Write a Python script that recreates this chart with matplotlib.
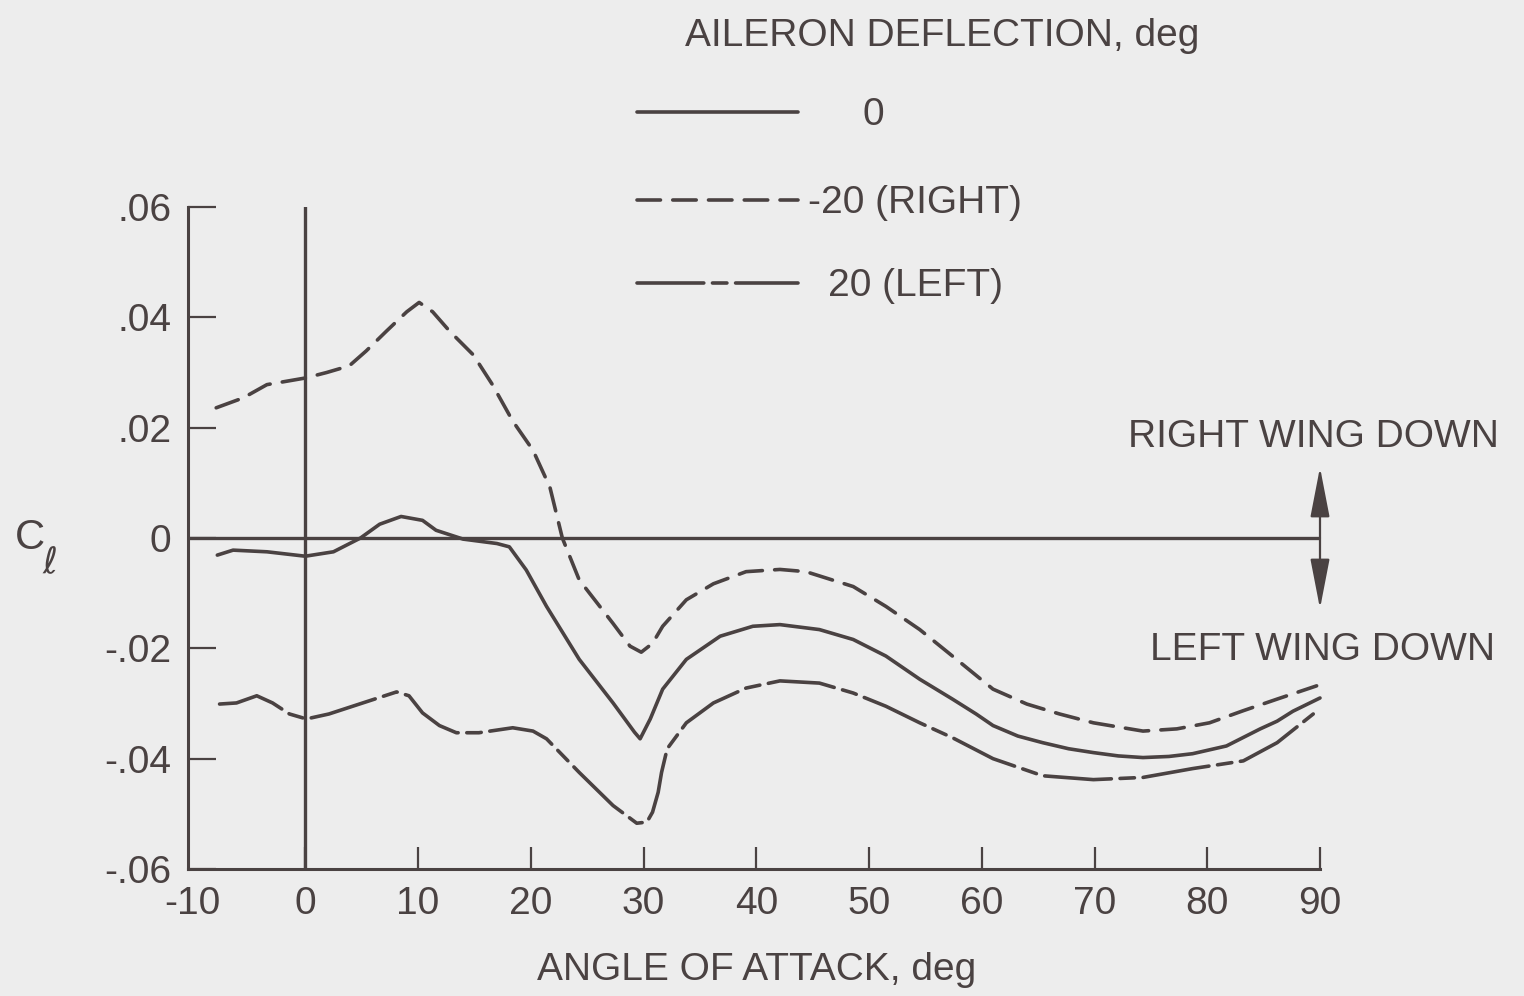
import matplotlib
matplotlib.use("Agg")
import matplotlib.pyplot as plt
from matplotlib.lines import Line2D

# ---------------- data ----------------
alpha_0 = [-7.8, -6.4, -3.4, 0, 2.5, 4.9, 6.6, 8.5, 10.4, 11.6, 14, 17, 18.1, 19.6, 21.4,
           24.3, 27.3, 29.2, 29.7, 30.6, 31.7, 33.8, 36.8, 39.7, 42.1, 45.6, 48.6, 51.5,
           54.5, 57.4, 59.5, 61, 63.2, 65.4, 67.7, 69.9, 72.1, 74.3, 76.6, 78.7, 81.7,
           84.7, 86.2, 87.6, 90]
cl_0 = [-0.0031, -0.0022, -0.0025, -0.0033, -0.0025, 0.0, 0.0025, 0.0039, 0.0032, 0.0014,
        -0.0002, -0.0010, -0.0016, -0.0058, -0.0124, -0.0220, -0.0299, -0.0352, -0.0364,
        -0.0328, -0.0274, -0.0220, -0.0178, -0.0160, -0.0157, -0.0166, -0.0184, -0.0214,
        -0.0256, -0.0292, -0.0319, -0.0340, -0.0359, -0.0371, -0.0382, -0.0389, -0.0395,
        -0.0398, -0.0396, -0.0391, -0.0377, -0.0346, -0.0332, -0.0314, -0.0290]

alpha_right = [-7.9, -5.5, -3.4, 0, 1.9, 3.9, 5.4, 7.2, 9.0, 10.1, 11.3, 12.8, 14.9, 16.6,
               18.4, 20.2, 21.7, 22.8, 24.3, 27.3, 28.8, 29.8, 30.8, 31.7, 33.8, 36.2, 39.1,
               42.1, 44.4, 48.6, 51.5, 54.5, 57.4, 61, 64, 66.9, 69.9, 74.3, 77.3, 80.2,
               83.2, 86.2, 89.7]
cl_right = [0.0236, 0.0254, 0.0278, 0.0290, 0.0300, 0.0312, 0.0339, 0.0375, 0.0410, 0.0427,
            0.0410, 0.0375, 0.0332, 0.0278, 0.0212, 0.0159, 0.0092, 0.0, -0.0076, -0.0155,
            -0.0196, -0.0207, -0.0191, -0.0160, -0.0112, -0.0083, -0.0061, -0.0057, -0.0061,
            -0.0088, -0.0124, -0.0166, -0.0214, -0.0274, -0.0301, -0.0319, -0.0335, -0.0350,
            -0.0346, -0.0335, -0.0313, -0.0292, -0.0268]

alpha_left = [-7.6, -6.1, -4.3, -2.9, -1.4, 0.1, 2.1, 5.1, 8.1, 9.2, 10.4, 11.9, 13.4, 15.4,
              18.4, 20.2, 21.4, 24.3, 27.3, 29.4, 30.3, 30.8, 31.3, 31.6, 32.1, 33.8, 36.2,
              39.1, 42.1, 45.6, 48.6, 51.5, 54.5, 57.4, 61, 65.4, 69.9, 74.3, 78.7, 83.2,
              86.2, 89.4]
cl_left = [-0.0301, -0.0299, -0.0286, -0.0299, -0.0319, -0.0328, -0.0319, -0.0299, -0.0279,
           -0.0286, -0.0317, -0.0340, -0.0353, -0.0353, -0.0344, -0.0350, -0.0364, -0.0425,
           -0.0485, -0.0517, -0.0515, -0.0497, -0.0461, -0.0425, -0.0382, -0.0335, -0.0299,
           -0.0272, -0.0259, -0.0263, -0.0281, -0.0305, -0.0335, -0.0362, -0.0400, -0.0431,
           -0.0438, -0.0434, -0.0418, -0.0404, -0.0371, -0.0319]

x_ticks = [-10, 0, 10, 20, 30, 40, 50, 60, 70, 80, 90]
x_ticklabels = ["-10", "0", "10", "20", "30", "40", "50", "60", "70", "80", "90"]
y_ticks = [-0.06, -0.04, -0.02, 0, 0.02, 0.04, 0.06]
y_ticklabels = ["-.06", "-.04", "-.02", "0", ".02", ".04", ".06"]

legend_labels = ["0", "-20 (RIGHT)", "20 (LEFT)"]
legend_title = "AILERON DEFLECTION, deg"

# ---------------- style ----------------
INK = "#4a4242"
BG = "#ededed"
FONT = ["Liberation Sans", "DejaVu Sans"]
plt.rcParams["font.family"] = FONT
FS = 28

W, H = 1524, 996
fig = plt.figure(figsize=(W / 100, H / 100), dpi=100, facecolor=BG)
ax = fig.add_axes([188 / W, 1 - 869 / H, (1320 - 188) / W, (869 - 207) / H])
ax.set_facecolor(BG)

LW = 2.6
DASHED = (0, (6.5, 3.4))
DASHDOT = (0, (18.5, 2.4, 4.0, 2.4))

ax.plot(alpha_0, cl_0, color=INK, lw=LW, solid_capstyle="round",
        solid_joinstyle="round", clip_on=False)
ax.plot(alpha_right, cl_right, color=INK, lw=LW, linestyle=DASHED, dash_capstyle="round",
        dash_joinstyle="round", clip_on=False)
ax.plot(alpha_left, cl_left, color=INK, lw=LW, linestyle=DASHDOT, dash_capstyle="round",
        dash_joinstyle="round", clip_on=False)

ax.set_xlim(-10.4, 90)
ax.set_ylim(-0.06, 0.06)

ax.axhline(0, color=INK, lw=2.4, zorder=1)
ax.axvline(0, color=INK, lw=2.4, zorder=1)

for s in ("top", "right"):
    ax.spines[s].set_visible(False)
for s in ("left", "bottom"):
    ax.spines[s].set_color(INK)
    ax.spines[s].set_linewidth(2.2)

ax.set_xticks(x_ticks)
ax.set_xticklabels(x_ticklabels)
ax.set_yticks(y_ticks)
ax.set_yticklabels(y_ticklabels)
ax.tick_params(axis="x", direction="in", length=16, width=1.6, color=INK,
               labelsize=FS, labelcolor=INK, pad=12)
ax.tick_params(axis="y", direction="in", length=20, width=1.6, color=INK,
               labelsize=FS, labelcolor=INK, pad=12)
# the -10 tick sits on the corner of the frame: hide its mark, keep its label
ax.xaxis.get_major_ticks()[0].tick1line.set_visible(False)

ax.set_xlabel("ANGLE OF ATTACK, deg", fontsize=FS, color=INK)
ax.xaxis.set_label_coords((757 - 188) / (1320 - 188), -0.125)

# y-axis label C_l
fig.text(30 / W, 1 - 538 / H, "C", fontsize=FS + 2, color=INK, ha="center", va="center")
fig.text(50 / W, 1 - 563 / H, "\u2113", fontsize=FS - 2, color=INK, ha="center",
         va="center", family=["DejaVu Sans"])

# arrows (right / left wing down)
for tip in (0.0128, -0.0128):
    ax.annotate("", xy=(90, tip), xytext=(90, 0), xycoords="data",
                arrowprops=dict(arrowstyle="-|>,head_length=1.55,head_width=0.3",
                                color=INK, lw=1.6, shrinkA=0, shrinkB=0,
                                mutation_scale=20),
                annotation_clip=False)

fig.text(1128 / W, 1 - 437 / H, "RIGHT WING DOWN", fontsize=FS, color=INK,
         ha="left", va="center")
fig.text(1150 / W, 1 - 650 / H, "LEFT WING DOWN", fontsize=FS, color=INK,
         ha="left", va="center")

# legend (drawn manually)
fig.text(685 / W, 1 - 36 / H, legend_title, fontsize=FS, color=INK, ha="left", va="center")
styles = ["-", DASHED, DASHDOT]
rows_y = [112, 200, 283]
label_x = [863, 808, 828]
for lab, st, yy, lx in zip(legend_labels, styles, rows_y, label_x):
    ln = Line2D([637 / W, 798 / W], [1 - yy / H, 1 - yy / H], transform=fig.transFigure,
                color=INK, lw=LW, linestyle=st, dash_capstyle="round",
                solid_capstyle="round")
    fig.add_artist(ln)
    fig.text(lx / W, 1 - (yy + 3) / H, lab, fontsize=FS, color=INK, ha="left", va="center")

fig.savefig("out.png", dpi=100, facecolor=BG)
